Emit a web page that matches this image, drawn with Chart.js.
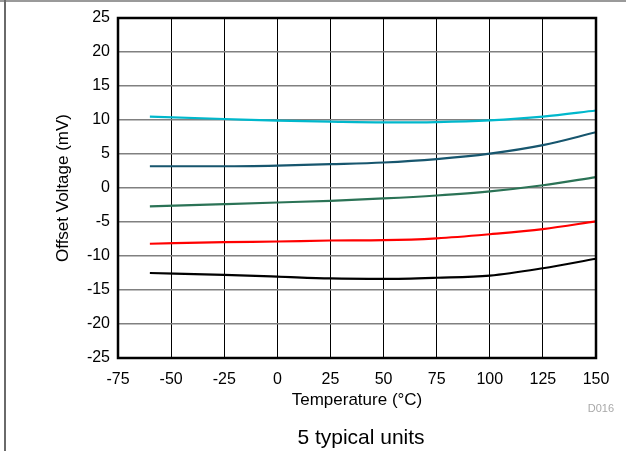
<!DOCTYPE html>
<html>
<head>
<meta charset="utf-8">
<script src="https://cdn.jsdelivr.net/npm/chart.js@4/dist/chart.umd.min.js"></script>
<style>
  html, body { margin: 0; padding: 0; background: #fff; }
  #wrap { position: relative; width: 626px; height: 451px; overflow: hidden; font-family: "Liberation Sans", Arial, sans-serif; }
  #c { position: absolute; left: 0; top: 0; }
  .frameTop { position: absolute; left: 0; top: 0; width: 626px; height: 2px; background: #9a9a9a; }
  .frameLeft { position: absolute; left: 4px; top: 0; width: 2px; height: 451px; background: #6a6a6a; }
  #caption { position: absolute; left: 261px; width: 200px; top: 424px; text-align: center; font-size: 21px; line-height: 25px; color: #000; }
  #code { position: absolute; right: 12px; top: 402px; font-size: 11px; line-height: 13px; color: #a8a8a8; }
</style>
</head>
<body>
<div id="wrap">
  <canvas id="c" width="626" height="451"></canvas>
  <div class="frameTop"></div>
  <div class="frameLeft"></div>
  <div id="code">D016</div>
  <div id="caption">5 typical units</div>
</div>
<script>
// Data
const temperatures = [-60, -25, 0, 25, 50, 75, 100, 125, 150];
const unit1 = [10.5, 10.15, 9.9, 9.75, 9.65, 9.7, 9.95, 10.5, 11.4];      // cyan
const unit2 = [3.2, 3.2, 3.3, 3.5, 3.75, 4.25, 5.05, 6.3, 8.2];           // dark teal
const unit3 = [-2.7, -2.37, -2.13, -1.88, -1.54, -1.1, -0.5, 0.4, 1.6];   // green
const unit4 = [-8.2, -7.96, -7.87, -7.72, -7.67, -7.4, -6.8, -6.05, -4.9]; // red
const unit5 = [-12.5, -12.78, -13.03, -13.3, -13.37, -13.2, -12.88, -11.8, -10.4]; // black
const xTicks = [-75, -50, -25, 0, 25, 50, 75, 100, 125, 150];
const yTicks = [-25, -20, -15, -10, -5, 0, 5, 10, 15, 20, 25];

const colors = ['#00B8CC', '#17566E', '#2B7356', '#FF0000', '#000000'];
const series = [unit1, unit2, unit3, unit4, unit5];

function pts(arr) { return temperatures.map((t, i) => ({ x: t, y: arr[i] })); }

const frameBox = {
  id: 'frameBox',
  afterDatasetsDraw(chart) {
    const { ctx, chartArea: a } = chart;
    ctx.save();
    ctx.strokeStyle = '#000';
    ctx.lineWidth = 2.5;
    ctx.strokeRect(a.left, a.top, a.right - a.left, a.bottom - a.top);
    ctx.restore();
  }
};

const font = { family: '"Liberation Sans", Arial, sans-serif' };

new Chart(document.getElementById('c'), {
  type: 'line',
  data: {
    datasets: series.map((s, i) => ({
      data: pts(s),
      borderColor: colors[i],
      backgroundColor: colors[i],
      borderWidth: 2.2,
      pointRadius: 0,
      cubicInterpolationMode: 'monotone',
      fill: false
    }))
  },
  options: {
    responsive: false,
    animation: false,
    devicePixelRatio: 1,
    layout: { padding: { left: 49, top: 18, right: 30, bottom: 36 } },
    plugins: { legend: { display: false }, tooltip: { enabled: false } },
    scales: {
      x: {
        type: 'linear',
        min: -75, max: 150,
        afterBuildTicks: (s) => { s.ticks = xTicks.map(v => ({ value: v })); },
        afterFit: (s) => { s.height = 57; },
        grid: { color: '#000', lineWidth: 1, drawTicks: false },
        border: { display: false },
        ticks: { color: '#000', font: { ...font, size: 16 }, padding: 12, maxRotation: 0 },
        title: { display: true, text: 'Temperature (°C)', color: '#000', font: { ...font, size: 17 }, padding: { top: 4, bottom: 4 } }
      },
      y: {
        type: 'linear',
        min: -25, max: 25,
        afterBuildTicks: (s) => { s.ticks = yTicks.map(v => ({ value: v })); },
        afterFit: (s) => { s.width = 69; },
        grid: { color: '#808080', lineWidth: 1.5, drawTicks: false },
        border: { display: false },
        ticks: { color: '#000', font: { ...font, size: 16 }, padding: 8 },
        title: { display: true, text: 'Offset Voltage (mV)', color: '#000', font: { ...font, size: 17 }, padding: { top: 4, bottom: 4 } }
      }
    }
  },
  plugins: [frameBox]
});
</script>
</body>
</html>
